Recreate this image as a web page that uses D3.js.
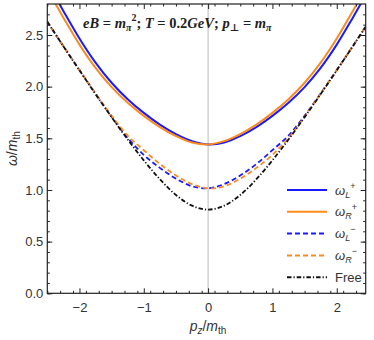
<!DOCTYPE html>
<html>
<head>
<meta charset="utf-8">
<script src="https://cdn.jsdelivr.net/npm/d3@7"></script>
<style>
    body { margin: 0; padding: 0; background: #fff; }
    svg { display: block; font-family: "Liberation Sans", Arial, sans-serif; }
</style>
</head>
<body>
<svg id="chart" width="374" height="340"></svg>
<script>
    // values, pz = -2.5 .. 2.5 step 0.25
    var pz = [-2.5, -2.25, -2.0, -1.75, -1.5, -1.25, -1.0, -0.75, -0.5, -0.25, 0,
        0.25, 0.5, 0.75, 1.0, 1.25, 1.5, 1.75, 2.0, 2.25, 2.5];
    var omegaLplus = [3.008, 2.733, 2.467, 2.233, 2.038, 1.879, 1.746, 1.633, 1.541, 1.473, 1.441,
        1.459, 1.522, 1.609, 1.717, 1.844, 1.996, 2.182, 2.407, 2.668, 2.942];
    var omegaRplus = [2.942, 2.668, 2.407, 2.182, 1.996, 1.844, 1.717, 1.609, 1.522, 1.459, 1.441,
        1.473, 1.541, 1.633, 1.746, 1.879, 2.038, 2.233, 2.467, 2.733, 3.008];
    var omegaLminus = [2.629, 2.392, 2.160, 1.932, 1.708, 1.503, 1.340, 1.214, 1.110, 1.036, 1.016,
        1.057, 1.140, 1.252, 1.385, 1.527, 1.718, 1.935, 2.160, 2.392, 2.629];
    var omegaRminus = [2.629, 2.392, 2.160, 1.935, 1.718, 1.527, 1.385, 1.252, 1.140, 1.057, 1.016,
        1.036, 1.110, 1.214, 1.340, 1.503, 1.708, 1.932, 2.160, 2.392, 2.629];
    var omegaFree = [2.628, 2.391, 2.158, 1.928, 1.705, 1.489, 1.287, 1.104, 0.952, 0.848, 0.810,
        0.848, 0.952, 1.104, 1.287, 1.489, 1.705, 1.928, 2.158, 2.391, 2.628];

    var xTicks = [-2, -1, 0, 1, 2];
    var yTicks = [0, 0.5, 1.0, 1.5, 2.0, 2.5];

    var series = [
        { name: "L", sign: "+", values: omegaLplus, color: "#1a1aff", dash: null },
        { name: "R", sign: "+", values: omegaRplus, color: "#ff8a1c", dash: null },
        { name: "L", sign: "\u2212", values: omegaLminus, color: "#1a1aff", dash: "5,3" },
        { name: "R", sign: "\u2212", values: omegaRminus, color: "#ff8a1c", dash: "5,3" },
        { name: "Free", sign: null, values: omegaFree, color: "#111", dash: "4.5,2,1.2,2" }
    ];

    var pl = 47.3, pr = 365.7, pt = 4, pb = 293.3;

    var svg = d3.select("#chart");
    var x = d3.scaleLinear().domain([-2.5, 2.45]).range([pl, pr]);
    var y = d3.scaleLinear().domain([0, 2.8]).range([pb, pt]);

    svg.append("clipPath").attr("id", "plot-clip")
        .append("rect")
        .attr("x", pl).attr("y", pt)
        .attr("width", pr - pl).attr("height", pb - pt);

    // zero line
    svg.append("line")
        .attr("x1", x(0)).attr("x2", x(0))
        .attr("y1", pt).attr("y2", pb)
        .attr("stroke", "#bbb").attr("stroke-width", 1);

    var line = d3.line()
        .x(function (d, i) { return x(pz[i]); })
        .y(function (d) { return y(d); })
        .curve(d3.curveCatmullRom);

    var plot = svg.append("g").attr("clip-path", "url(#plot-clip)");
    series.forEach(function (s) {
        plot.append("path")
            .attr("d", line(s.values))
            .attr("fill", "none")
            .attr("stroke", s.color)
            .attr("stroke-width", s.dash ? 1.8 : 2)
            .attr("stroke-dasharray", s.dash);
    });

    // axes, ticks inside the frame
    var minorX = d3.range(-25, 25, 2).map(function (v) { return v / 10; });
    var minorY = d3.range(0, 28, 1).map(function (v) { return v / 10; });
    var fmt = function (d) { return d < 0 ? "\u2212" + Math.abs(d) : d; };

    function addAxis(axis, tx, ty, labels) {
        var g = svg.append("g")
            .attr("transform", "translate(" + tx + "," + ty + ")")
            .call(axis);
        g.select(".domain").remove();
        g.selectAll(".tick line").attr("stroke", "#222");
        if (!labels) g.selectAll("text").remove();
        return g;
    }

    addAxis(d3.axisBottom(x).tickValues(xTicks).tickSizeInner(-5).tickSizeOuter(0)
        .tickPadding(9).tickFormat(fmt), 0, pb, true);
    addAxis(d3.axisBottom(x).tickValues(minorX).tickSizeInner(-2.5).tickSizeOuter(0), 0, pb, false);
    addAxis(d3.axisTop(x).tickValues(xTicks).tickSizeInner(-5).tickSizeOuter(0), 0, pt, false);
    addAxis(d3.axisTop(x).tickValues(minorX).tickSizeInner(-2.5).tickSizeOuter(0), 0, pt, false);

    addAxis(d3.axisLeft(y).tickValues(yTicks).tickSizeInner(-5).tickSizeOuter(0)
        .tickPadding(4).tickFormat(d3.format(".1f")), pl, 0, true);
    addAxis(d3.axisLeft(y).tickValues(minorY).tickSizeInner(-2.5).tickSizeOuter(0), pl, 0, false);
    addAxis(d3.axisRight(y).tickValues(yTicks).tickSizeInner(-5).tickSizeOuter(0), pr, 0, false);
    addAxis(d3.axisRight(y).tickValues(minorY).tickSizeInner(-2.5).tickSizeOuter(0), pr, 0, false);

    svg.selectAll(".tick text")
        .attr("font-size", "13px")
        .attr("font-family", "'Liberation Sans', Arial, sans-serif")
        .attr("fill", "#333");

    // frame
    svg.append("rect")
        .attr("x", pl).attr("y", pt)
        .attr("width", pr - pl).attr("height", pb - pt)
        .attr("fill", "none").attr("stroke", "#222").attr("stroke-width", 1.2);

    // title
    var title = svg.append("text")
        .attr("x", 83).attr("y", 28)
        .attr("font-family", "'Liberation Serif', 'DejaVu Serif', serif")
        .attr("font-weight", "bold")
        .attr("font-size", "14.5px")
        .attr("fill", "#222");
    title.append("tspan").attr("font-style", "italic").text("eB");
    title.append("tspan").text(" = ");
    title.append("tspan").attr("font-style", "italic").text("m");
    title.append("tspan").attr("font-style", "italic").attr("font-size", "10px").attr("dy", 3).text("\u03c0");
    title.append("tspan").attr("font-size", "10px").attr("dy", -10).text("2");
    title.append("tspan").attr("dy", 7).text("; ");
    title.append("tspan").attr("font-style", "italic").text("T");
    title.append("tspan").text(" = 0.2");
    title.append("tspan").attr("font-style", "italic").text("GeV");
    title.append("tspan").text("; ");
    title.append("tspan").attr("font-style", "italic").text("p");
    title.append("tspan").attr("font-size", "10px").attr("dy", 3).text("\u22a5");
    title.append("tspan").attr("dy", -3).text(" = ");
    title.append("tspan").attr("font-style", "italic").text("m");
    title.append("tspan").attr("font-style", "italic").attr("font-size", "10px").attr("dy", 3).text("\u03c0");

    // axis labels
    var xl = svg.append("text")
        .attr("x", 208).attr("y", 331)
        .attr("text-anchor", "middle")
        .attr("font-size", "14px").attr("fill", "#333");
    xl.append("tspan").attr("font-style", "italic").text("p");
    xl.append("tspan").attr("font-style", "italic").attr("font-size", "10px").attr("dy", 3).text("z");
    xl.append("tspan").attr("dy", -3).text("/");
    xl.append("tspan").attr("font-style", "italic").text("m");
    xl.append("tspan").attr("font-size", "10px").attr("dy", 3).text("th");

    var yl = svg.append("text")
        .attr("transform", "translate(17," + ((pt + pb) / 2) + ") rotate(-90)")
        .attr("text-anchor", "middle")
        .attr("font-size", "14px").attr("fill", "#333");
    yl.append("tspan").attr("font-style", "italic").text("\u03c9");
    yl.append("tspan").text("/");
    yl.append("tspan").attr("font-style", "italic").text("m");
    yl.append("tspan").attr("font-size", "10px").attr("dy", 3).text("th");

    // legend
    var legend = svg.append("g");
    series.forEach(function (s, i) {
        var ly = 190 + i * 21.8;
        legend.append("line")
            .attr("x1", 287).attr("x2", 327)
            .attr("y1", ly).attr("y2", ly)
            .attr("stroke", s.color)
            .attr("stroke-width", 2)
            .attr("stroke-dasharray", s.dash);
        var t = legend.append("text")
            .attr("x", 335).attr("y", ly + 4.5)
            .attr("font-size", "13px").attr("fill", "#333");
        if (s.sign === null) {
            t.text(s.name);
        } else {
            t.append("tspan").attr("font-style", "italic").text("\u03c9");
            t.append("tspan").attr("font-style", "italic").attr("font-size", "9px").attr("dy", 3).text(s.name);
            t.append("tspan").attr("font-size", "9px").attr("dy", -9).text(s.sign);
        }
    });
</script>
</body>
</html>
